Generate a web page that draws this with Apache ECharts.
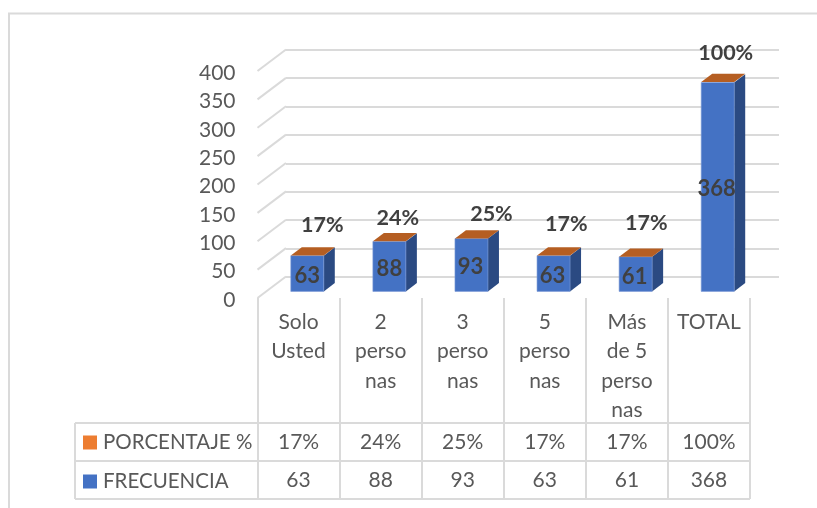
<!DOCTYPE html>
<html><head><meta charset="utf-8">
<style>html,body{margin:0;padding:0;background:#fff}#c{width:817px;height:508px}</style>
<script src="https://cdn.jsdelivr.net/npm/echarts@6/dist/echarts.min.js"></script>
</head><body><div id="c"></div>
<script>
const categories = ["Solo\nUsted","2\nperso\nnas","3\nperso\nnas","5\nperso\nnas","Más\nde 5\nperso\nnas","TOTAL"];
const frecuencia = [63,88,93,63,61,368];
const porcentaje = [0.17,0.24,0.25,0.17,0.17,1];
const seriesNames = ["PORCENTAJE %","FRECUENCIA"];
const yMin = 0, yMax = 400, yStep = 50;

// presentation constants
const FONT = 'Lato';
const GRID = '#dadada', TXT = '#595959', BOLD = '#404040';
const BLUE = '#4472C4', BLUE_SIDE = '#2B4A82', ORANGE = '#ED7D31', ORANGE_TOP = '#B55E22';
const WALL_DX = 28.5, WALL_DY = 21.5;      // depth of the side wall
const BAR_DX = 11, BAR_DY = 8.3, BAR_W = 33; // depth and width of a column
const pctNudge = [[15,-30],[8.5,-23],[20,-24],[12.7,-31],[10.7,-34],[8,-29]];
const valNudge = [[0,2],[0,2],[-1,2],[-1,2],[-1,3],[-1,2]];
const pct = v => Math.round(v*100)+'%';
const ticks = []; for (let v = yMin; v <= yMax; v += yStep) ticks.push(v);

function barOrigin(api, i, v){
  const p = api.coord([i, v]);
  return [p[0] + (WALL_DX-BAR_DX)/2 - BAR_W/2, p[1] - (WALL_DY-BAR_DY)/2];
}
const chart = echarts.init(document.getElementById('c'), null, {renderer:'canvas'});
chart.setOption({
  animation:false,
  backgroundColor:'#fff',
  textStyle:{fontFamily:FONT},
  grid:[
    {left:257.5, top:71, width:492.5, height:227},   // front plane
    {left:286, top:49.5, width:493, height:227.5},   // back plane
    {left:257.5, top:73, width:492.5, height:227}    // carries the tick labels
  ],
  xAxis:[
    {type:'category', gridIndex:0, data:categories,
     axisLine:{show:false},
     axisTick:{show:true, length:201, lineStyle:{color:GRID, width:2}},
     axisLabel:{interval:0, color:TXT, fontFamily:FONT, fontSize:21, lineHeight:29.5, margin:9, verticalAlign:'top'}},
    {type:'category', gridIndex:1, data:categories, show:false},
    {type:'category', gridIndex:2, data:categories, show:false}
  ],
  yAxis:[
    {type:'value', gridIndex:0, min:yMin, max:yMax, interval:yStep, show:false},
    {type:'value', gridIndex:1, min:yMin, max:yMax, interval:yStep,
     axisLine:{show:false}, axisTick:{show:false}, axisLabel:{show:false},
     splitLine:{show:true, lineStyle:{color:GRID, width:2}}},
    {type:'value', gridIndex:2, min:yMin, max:yMax, interval:yStep,
     axisLine:{show:false}, axisTick:{show:false}, splitLine:{show:false},
     axisLabel:{color:TXT, fontFamily:FONT, fontSize:21, margin:22}}
  ],
  legend:{
    orient:'vertical', left:78, top:427, itemWidth:14, itemHeight:14, itemGap:18,
    icon:'rect', selectedMode:false, data:seriesNames,
    textStyle:{color:TXT, fontFamily:FONT, fontSize:20.5, lineHeight:20, padding:[0,0,0,1]}
  },
  graphic:{elements:[
    {type:'polyline', silent:true, shape:{points:[[9,508],[9,13.5],[817,13.5]]}, style:{stroke:GRID, lineWidth:2, fill:null}},
    {type:'polyline', silent:true, shape:{points:[[75,423],[750,423]]}, style:{stroke:GRID, lineWidth:2, fill:null}},
    {type:'polyline', silent:true, shape:{points:[[75,461],[750,461]]}, style:{stroke:GRID, lineWidth:2, fill:null}},
    {type:'polyline', silent:true, shape:{points:[[75,499],[750,499]]}, style:{stroke:GRID, lineWidth:2, fill:null}},
    {type:'polyline', silent:true, shape:{points:[[75,423],[75,499]]}, style:{stroke:GRID, lineWidth:2, fill:null}}
  ]},
  series:[
    { // side wall of the 3D plot
      type:'custom', name:'pared', xAxisIndex:0, yAxisIndex:0, silent:true, z:1,
      data:ticks.map(v=>[0,v]),
      renderItem:(params,api)=>{
        const y = api.coord([0,api.value(1)])[1], x = params.coordSys.x;
        return {type:'line', shape:{x1:x,y1:y,x2:x+WALL_DX,y2:y-WALL_DY}, style:{stroke:GRID,lineWidth:2}};
      }
    },
    { // FRECUENCIA columns
      type:'custom', name:seriesNames[1], xAxisIndex:0, yAxisIndex:0, silent:true, z:3,
      itemStyle:{color:BLUE},
      data:frecuencia.map((v,i)=>[i,v]),
      renderItem:(params,api)=>{
        const i = api.value(0), v = api.value(1);
        const b = barOrigin(api,i,0), t = barOrigin(api,i,v);
        const L=b[0], R=b[0]+BAR_W;
        const cx=(L+R)/2, cy=(b[1]+t[1])/2;
        return {type:'group', children:[
          {type:'polygon', shape:{points:[[R,t[1]],[R+BAR_DX,t[1]-BAR_DY],[R+BAR_DX,b[1]-BAR_DY],[R,b[1]]]}, style:{fill:BLUE_SIDE}},
          {type:'rect', shape:{x:L,y:t[1],width:BAR_W,height:b[1]-t[1]}, style:{fill:BLUE, stroke:'#7c9bd6', lineWidth:0.6}},
          {type:'text', z2:10, style:{text:String(v), x:cx+valNudge[i][0], y:cy+valNudge[i][1], fill:BOLD, font:'bold 22px '+FONT, align:'center', verticalAlign:'middle'}}
        ]};
      }
    },
    { // PORCENTAJE: a thin slice stacked on top, seen as the top face
      type:'custom', name:seriesNames[0], xAxisIndex:0, yAxisIndex:0, silent:true, z:4,
      itemStyle:{color:ORANGE},
      data:porcentaje.map((p,i)=>[i,p,frecuencia[i]]),
      renderItem:(params,api)=>{
        const i = api.value(0), p = api.value(1), base = api.value(2);
        const t = barOrigin(api,i,base+p);
        const L=t[0], R=t[0]+BAR_W, y=t[1];
        return {type:'group', children:[
          {type:'polygon', shape:{points:[[L,y],[R,y],[R+BAR_DX,y-BAR_DY],[L+BAR_DX,y-BAR_DY]]}, style:{fill:ORANGE_TOP}},
          {type:'text', z2:10, style:{text:pct(p), x:(L+R)/2+pctNudge[i][0], y:y+pctNudge[i][1], fill:BOLD, font:'bold 21.5px '+FONT, align:'center', verticalAlign:'middle'}}
        ]};
      }
    },
    { // data table values
      type:'custom', name:'tabla', xAxisIndex:0, yAxisIndex:0, silent:true, z:2,
      data:categories.map((c,i)=>[i,porcentaje[i],frecuencia[i]]),
      renderItem:(params,api)=>{
        const x = api.coord([api.value(0),0])[0];
        const mk=(s,y)=>({type:'text', style:{text:s,x:x,y:y,fill:TXT,font:'21px '+FONT,align:'center',verticalAlign:'middle'}});
        return {type:'group', children:[mk(pct(api.value(1)),442), mk(String(api.value(2)),480.5)]};
      }
    }
  ]
});
</script></body></html>
